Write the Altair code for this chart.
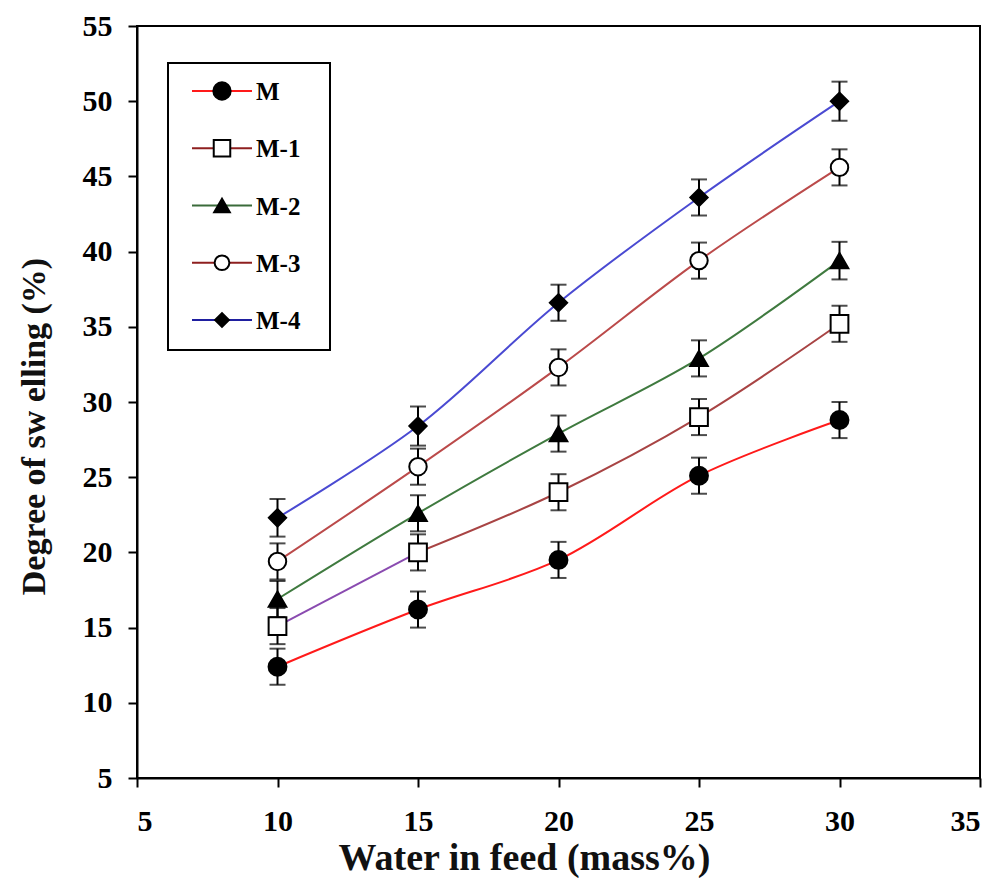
import altair as alt
import pandas as pd

# ---------------- data ----------------
series_names = ["M", "M-1", "M-2", "M-3", "M-4"]
water = [10, 15, 20, 25, 30]
m0 = [12.4, 16.2, 19.5, 25.1, 28.8]
m1 = [15.1, 20.0, 24.0, 29.0, 35.2]
m2 = [16.9, 22.6, 27.9, 32.9, 39.4]
m3 = [19.4, 25.7, 32.3, 39.4, 45.6]
m4 = [22.3, 28.4, 36.6, 43.6, 50.0]
err0 = [1.2, 1.2, 1.2, 1.2, 1.2]
err1 = [1.2, 1.2, 1.2, 1.2, 1.2]
err2 = [1.2, 1.2, 1.2, 1.2, 1.25]
err3 = [1.2, 1.2, 1.2, 1.2, 1.2]
err4 = [1.25, 1.3, 1.2, 1.2, 1.3]
x_ticks = [5, 10, 15, 20, 25, 30, 35]
y_ticks = [5, 10, 15, 20, 25, 30, 35, 40, 45, 50, 55]

# line segment groups (M-1's first segment is drawn in purple in the original)
seg_names = ["M", "M-1a", "M-1b", "M-2", "M-3", "M-4"]
seg_colors = ["#ff1a1a", "#8a4bb0", "#a84444", "#3f7a3f", "#bb4a4a", "#4a4ad2"]
legend_line_colors = ["#ff1a1a", "#8e1f1f", "#3a6b3a", "#8e1f1f", "#1f1fa0"]
shapes = ["circle", "square", "triangle-up", "circle", "diamond"]
fills = ["black", "white", "black", "white", "black"]
plot_sizes = [320, 300, 260, 270, 330]
legend_sizes = [300, 190, 150, 150, 140]

values = [m0, m1, m2, m3, m4]
errs = [err0, err1, err2, err3, err4]

rows = []
for name, vals, es in zip(series_names, values, errs):
    for w, v, e in zip(water, vals, es):
        rows.append({"series": name, "water": w, "value": v, "lo": v - e, "hi": v + e})
df = pd.DataFrame(rows)

line_rows = []
for name, vals in zip(series_names, values):
    for w, v in zip(water, vals):
        if name == "M-1":
            if w <= 15:
                line_rows.append({"seg": "M-1a", "water": w, "value": v})
            if w >= 15:
                line_rows.append({"seg": "M-1b", "water": w, "value": v})
        else:
            line_rows.append({"seg": name, "water": w, "value": v})
df_lines = pd.DataFrame(line_rows)

df_leg = pd.DataFrame({"series": series_names})
df_box = pd.DataFrame({"k": [0]})

FONT = "Liberation Serif"

xscale = alt.Scale(domain=[5, 35], nice=False, zero=False)
yscale = alt.Scale(domain=[5, 55], nice=False, zero=False)

X = alt.X("water:Q", scale=xscale,
          axis=alt.Axis(values=x_ticks, title="Water in  feed (mass%)",
                        labelPadding=19, titleFontSize=38,
                        titleX=387, titleY=80, titleBaseline="middle", titleAlign="center"))
Y = alt.Y("value:Q", scale=yscale,
          axis=alt.Axis(values=y_ticks, title="Degree of sw elling (%)",
                        titleFontSize=34,
                        titleAngle=270, titleX=-103, titleY=400,
                        titleBaseline="middle", titleAlign="center"))

lines = alt.Chart(df_lines).mark_line(strokeWidth=2, interpolate="catmull-rom").encode(
    x=X, y=Y,
    color=alt.Color("seg:N", scale=alt.Scale(domain=seg_names, range=seg_colors), legend=None),
    detail="seg:N",
)

ebars = alt.Chart(df).mark_rule(color="black", strokeWidth=2).encode(
    x="water:Q", y=alt.Y("lo:Q", scale=yscale), y2="hi:Q"
)
cap_lo = alt.Chart(df).mark_tick(color="black", orient="horizontal", size=16, thickness=2).encode(
    x="water:Q", y=alt.Y("lo:Q", scale=yscale)
)
cap_hi = alt.Chart(df).mark_tick(color="black", orient="horizontal", size=16, thickness=2).encode(
    x="water:Q", y=alt.Y("hi:Q", scale=yscale)
)

points = alt.Chart(df).mark_point(filled=True, stroke="black", strokeWidth=2, opacity=1).encode(
    x="water:Q", y=alt.Y("value:Q", scale=yscale),
    shape=alt.Shape("series:N", scale=alt.Scale(domain=series_names, range=shapes), legend=None),
    fill=alt.Fill("series:N", scale=alt.Scale(domain=series_names, range=fills), legend=None),
    size=alt.Size("series:N", scale=alt.Scale(domain=series_names, range=plot_sizes), legend=None),
)

main = alt.layer(lines, ebars, cap_lo, cap_hi, points)

# ---------------- legend box ----------------
leg_y = alt.Y("series:N", scale=alt.Scale(type="point", domain=series_names, range=[65, 294], padding=0), axis=None)

box = alt.Chart(df_box).mark_rect(fill="white", stroke="black", strokeWidth=2).encode(
    x=alt.value(31), x2=alt.value(193), y=alt.value(37), y2=alt.value(324)
)
leg_lines = alt.Chart(df_leg).mark_rule(strokeWidth=2).encode(
    x=alt.value(55), x2=alt.value(115), y=leg_y,
    color=alt.Color("series:N", scale=alt.Scale(domain=series_names, range=legend_line_colors), legend=None),
)
leg_pts = alt.Chart(df_leg).mark_point(filled=True, stroke="black", strokeWidth=2, opacity=1).encode(
    x=alt.value(85), y=leg_y,
    shape=alt.Shape("series:N", scale=alt.Scale(domain=series_names, range=shapes), legend=None),
    fill=alt.Fill("series:N", scale=alt.Scale(domain=series_names, range=fills), legend=None),
    size=alt.Size("series:N", scale=alt.Scale(domain=series_names, range=legend_sizes), legend=None),
)
leg_text = alt.Chart(df_leg).mark_text(font=FONT, fontWeight="bold", fontSize=25, align="left",
                                       baseline="middle", dy=1, color="black").encode(
    x=alt.value(119), y=leg_y, text="series:N"
)
legend = alt.layer(box, leg_lines, leg_pts, leg_text)

chart = alt.layer(main, legend).resolve_scale(
    y="independent", color="independent", size="independent", shape="independent", fill="independent"
).properties(
    width=843, height=752,
    autosize=alt.AutoSizeParams(type="none"),
    padding={"left": 129, "top": 18, "right": 17, "bottom": 100},
).configure_view(
    stroke="black", strokeWidth=2
).configure_axis(
    domainColor="black", domainWidth=2, tickColor="black", tickWidth=2, tickSize=9,
    labelFont=FONT, labelFontWeight="bold", labelFontSize=30, labelColor="black",
    labelPadding=16, titleFont=FONT, titleFontWeight="bold", titleFontSize=32,
    titleColor="#111111", grid=False,
)

chart.save("out.html", embed_options={"renderer": "svg", "actions": False})
